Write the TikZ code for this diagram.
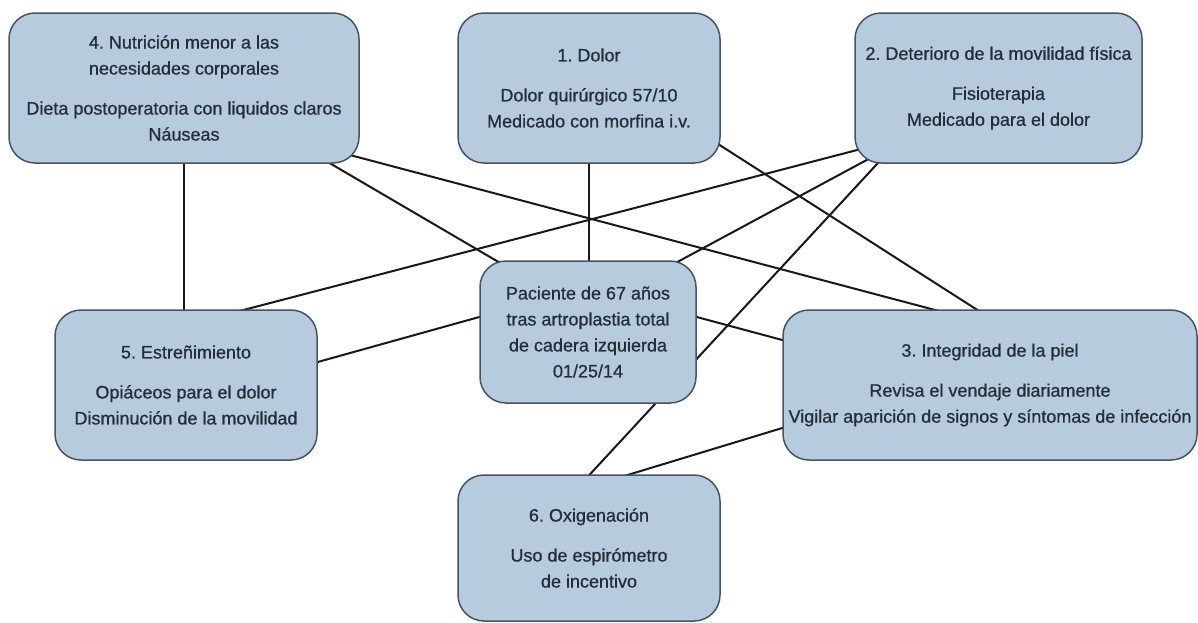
\documentclass[tikz,border=0pt]{standalone}
\usepackage{fontspec}
\setmainfont{Liberation Sans}[FakeBold=0.7]
\usepackage{tikz}
\usetikzlibrary{calc,backgrounds}
\definecolor{boxfill}{RGB}{183,203,222}
\definecolor{boxline}{RGB}{70,84,98}
\definecolor{boxtext}{RGB}{36,46,56}
\definecolor{linkcol}{RGB}{22,24,28}
\frenchspacing

\begin{document}
\begin{tikzpicture}[x=1pt,y=-1pt,
    need/.style={draw=boxline,line width=1.5pt,fill=boxfill,rounded corners=26pt,
        text=boxtext,align=center,inner sep=0pt,minimum height=150pt,
        font=\fontsize{18}{26}\selectfont},
    link/.style={draw=linkcol,line width=2pt,shorten <=-14pt,shorten >=-14pt}]
    \useasboundingbox (0,0) rectangle (1198,622);

    \node[need,minimum width=350pt] (n4) at (184,88)
        {4. Nutrición menor a las\\necesidades corporales\\[14pt]Dieta postoperatoria con liquidos claros\\Náuseas};
    \node[need,minimum width=262pt] (n1) at (589,88)
        {1. Dolor\\[14pt]Dolor quirúrgico 57/10\\Medicado con morfina i.v.};
    \node[need,minimum width=287pt] (n2) at (998.5,88)
        {2. Deterioro de la movilidad física\\[14pt]Fisioterapia\\Medicado para el dolor};
    \node[need,minimum width=262pt] (n5) at (186,385)
        {5. Estreñimiento\\[14pt]Opiáceos para el dolor\\Disminución de la movilidad};
    \node[need,minimum width=216pt,minimum height=142pt] (n0) at (588,332)
        {Paciente de 67 años\\tras artroplastia total\\de cadera izquierda\\01/25/14};
    \node[need,minimum width=414pt] (n3) at (990,385)
        {3. Integridad de la piel\\[14pt]Revisa el vendaje diariamente\\Vigilar aparición de signos y síntomas de infección};
    \node[need,minimum width=262pt,minimum height=146pt] (n6) at (589,548)
        {6. Oxigenación\\[14pt]Uso de espirómetro\\de incentivo};

    \begin{pgfonlayer}{background}
    \draw[link] (n4.south) -- (n4.south |- n5.north);
    \draw[link] ($(n4.south east)+(-29,0)$) -- ($(n0.north west)+(18,1)$);
    \draw[link] ($(n4.south east)+(-7,-8)$) -- ($(n3.north west)+(150,0)$);
    \draw[link] (n1.south) -- (n1.south |- n0.north);
    \draw[link] ($(n1.south east)+(0,-18)$) -- ($(n3.north west)+(194,0)$);
    \draw[link] ($(n2.south west)+(0,-13)$) -- ($(n5.north west)+(192,0)$);
    \draw[link] ($(n2.south west)+(11,-3)$) -- ($(n0.north east)+(-18,1)$);
    \draw[link] ($(n2.south west)+(23,0)$) -- ($(n6.north)+(1,0)$);
    \draw[link] ($(n5.east)+(0,-23)$) -- ($(n0.west)+(0,-15)$);
    \draw[link] ($(n0.east)+(0,-15)$) -- ($(n3.west)+(0,-45)$);
    \draw[link] ($(n3.west)+(0,43)$) -- ($(n6.north)+(41,0)$);
    \end{pgfonlayer}
\end{tikzpicture}
\end{document}
